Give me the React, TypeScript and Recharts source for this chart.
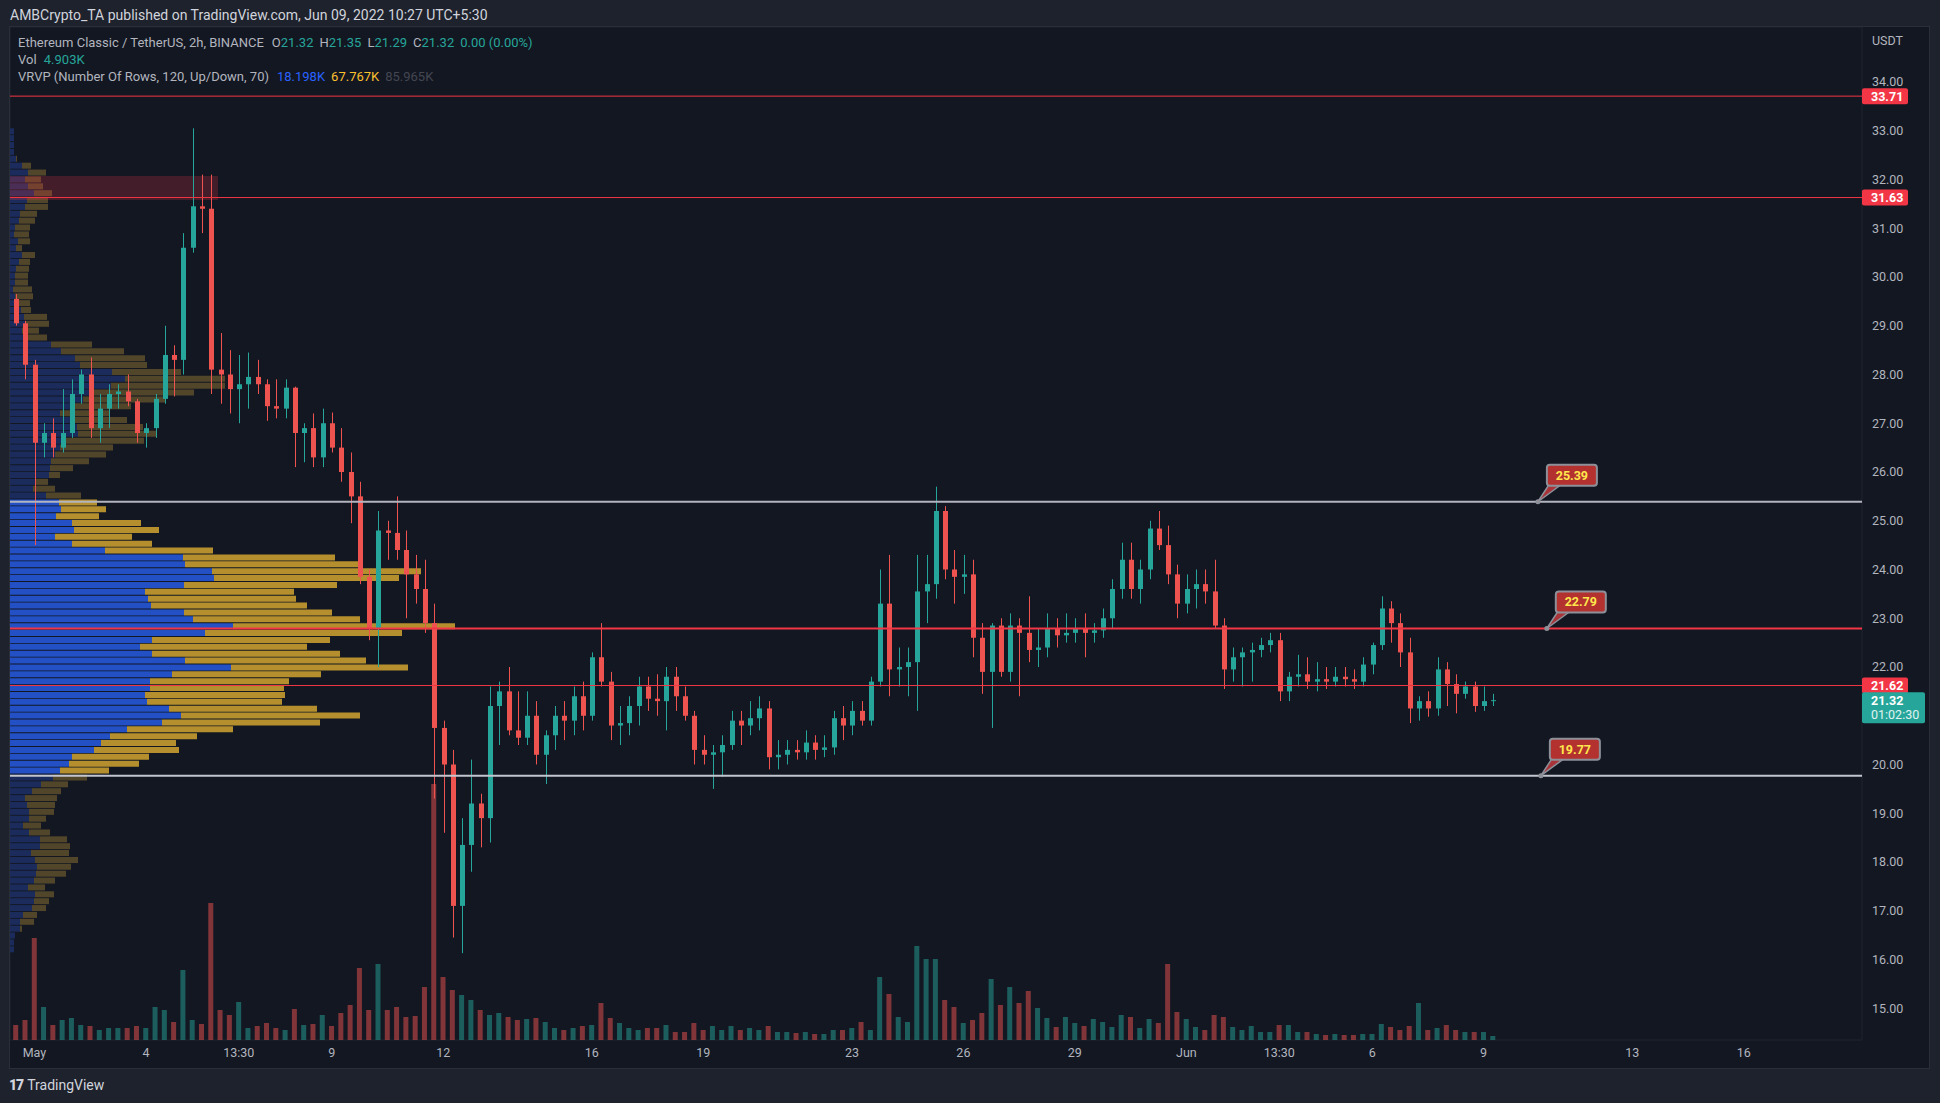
import React from "react";
import {
  Bar,
  CartesianGrid,
  Cell,
  ComposedChart,
  ReferenceArea,
  ReferenceDot,
  ReferenceLine,
  XAxis,
  YAxis
} from "recharts";

// ETC/USDT, resampled to 6h candles. Time is in days from May 1 00:00.
const CANDLE_START = -0.5;
const CANDLE_STEP = 0.25;

const OPEN = [
  29.55, 29.05, 28.2, 26.6, 26.8, 26.5, 26.8, 27.6, 28.0, 26.9,
  27.3, 27.6, 27.65, 27.45, 26.8, 26.9, 27.5, 28.4, 28.3, 30.6,
  31.45, 31.4, 28.1, 28.0, 27.7, 27.8, 27.95, 27.8, 27.35, 27.3,
  27.73, 26.8, 26.9, 26.3, 27.0, 26.5, 26.0, 25.5, 23.85, 22.8,
  24.8, 24.75, 24.4, 23.9, 23.6, 22.9, 20.75, 20.0, 17.1, 18.35,
  19.2, 18.9, 21.2, 21.5, 20.7, 20.55, 21.0, 20.2, 20.6, 21.0,
  20.9, 21.4, 21.0, 22.2, 21.7, 20.8, 20.85, 21.2, 21.6, 21.35,
  21.3, 21.8, 21.4, 21.0, 20.3, 20.2, 20.25, 20.4, 20.9, 20.8,
  20.95, 21.15, 20.15, 20.2, 20.3, 20.25, 20.45, 20.3, 20.35, 20.95,
  20.8, 21.1, 20.9, 21.7, 23.3, 21.95, 22.0, 22.1, 23.55, 23.7,
  25.2, 24.0, 23.85, 23.9, 22.6, 21.9, 22.85, 21.9, 22.85, 22.7,
  22.35, 22.4, 22.8, 22.65, 22.7, 22.8, 22.7, 22.75, 23.0, 23.6,
  24.2, 23.6, 24.0, 24.84, 24.5, 23.9, 23.3, 23.6, 23.7, 23.55,
  22.85, 21.95, 22.2, 22.3, 22.35, 22.45, 22.55, 21.5, 21.8, 21.85,
  21.7, 21.75, 21.7, 21.8, 21.75, 21.7, 22.05, 22.45, 23.2, 22.9,
  22.3, 21.15, 21.3, 21.15, 21.95, 21.65, 21.45, 21.6, 21.2, 21.3
];

const HIGH = [
  29.65, 29.1, 28.3, 27.0, 27.1, 27.7, 27.9, 28.1, 28.35, 27.6,
  27.8, 27.8, 28.0, 27.5, 27.0, 27.6, 29.0, 28.6, 30.9, 33.05,
  32.1, 32.1, 28.85, 28.5, 28.4, 28.45, 28.3, 27.9, 27.9, 27.9,
  27.75, 27.0, 27.2, 27.3, 27.22, 26.9, 26.4, 25.8, 24.0, 25.2,
  25.0, 25.5, 24.8, 24.3, 24.2, 23.3, 20.9, 20.3, 18.9, 20.1,
  19.4, 21.6, 21.7, 22.0, 21.5, 21.5, 21.3, 20.7, 21.2, 21.3,
  21.6, 21.7, 22.3, 22.9, 21.9, 21.2, 21.4, 21.8, 21.8, 21.85,
  22.0, 22.0, 21.6, 21.1, 20.6, 20.4, 20.6, 21.1, 21.1, 21.3,
  21.4, 21.3, 20.5, 20.5, 20.5, 20.7, 20.6, 20.6, 21.1, 21.2,
  21.3, 21.3, 21.8, 24.0, 24.3, 22.4, 22.4, 24.3, 24.3, 25.7,
  25.3, 24.4, 24.3, 24.2, 22.9, 22.9, 23.0, 23.1, 23.0, 23.45,
  22.8, 23.1, 23.0, 23.1, 23.0, 23.1, 22.9, 23.2, 23.8, 24.55,
  24.55, 24.2, 25.0, 25.2, 24.9, 24.1, 23.9, 24.0, 24.0, 24.2,
  23.0, 22.4, 22.4, 22.5, 22.6, 22.7, 22.7, 21.9, 22.25, 22.2,
  22.1, 22.0, 22.0, 22.0, 21.95, 22.2, 22.5, 23.45, 23.35, 23.1,
  22.6, 21.4, 21.5, 22.2, 22.1, 21.85, 21.7, 21.7, 21.6, 21.45
];

const LOW = [
  29.0, 27.9, 24.5, 26.3, 26.3, 26.4, 26.7, 27.4, 26.7, 26.6,
  26.9, 27.3, 27.35, 26.6, 26.5, 26.7, 27.4, 27.55, 28.0, 30.5,
  30.9, 27.6, 27.4, 27.2, 27.0, 27.3, 27.6, 27.05, 27.1, 27.1,
  26.1, 26.2, 26.1, 26.1, 26.4, 25.8, 24.95, 23.7, 22.55, 22.0,
  24.2, 24.2, 23.0, 23.3, 22.7, 19.3, 18.6, 16.45, 16.13, 17.8,
  18.3, 18.4, 20.4, 20.6, 20.4, 20.4, 20.0, 19.6, 20.3, 20.5,
  20.6, 20.7, 20.9, 21.6, 20.5, 20.4, 20.6, 20.8, 21.1, 21.0,
  20.7, 21.1, 20.9, 20.0, 20.0, 19.5, 19.75, 20.3, 20.4, 20.6,
  20.7, 19.9, 19.9, 20.0, 20.1, 20.1, 20.1, 20.15, 20.2, 20.5,
  20.6, 20.8, 20.8, 21.6, 21.4, 21.6, 21.4, 21.1, 22.9, 23.4,
  23.8, 23.3, 23.5, 22.2, 21.45, 20.75, 21.8, 21.7, 21.4, 22.1,
  22.0, 22.2, 22.4, 22.5, 22.5, 22.2, 22.5, 22.6, 22.8, 23.4,
  23.4, 23.3, 23.8, 24.4, 23.7, 23.0, 23.1, 23.2, 23.3, 22.8,
  21.55, 21.7, 21.6, 21.7, 22.2, 22.3, 21.3, 21.3, 21.6, 21.55,
  21.5, 21.55, 21.6, 21.6, 21.55, 21.6, 21.85, 22.35, 22.5, 22.0,
  20.85, 20.9, 20.98, 21.0, 21.2, 21.05, 21.35, 21.08, 21.1, 21.2
];

const CLOSE = [
  29.05, 28.2, 26.6, 26.8, 26.5, 26.8, 27.6, 28.0, 26.9, 27.3,
  27.6, 27.65, 27.45, 26.8, 26.9, 27.5, 28.4, 28.3, 30.6, 31.45,
  31.4, 28.1, 28.0, 27.7, 27.8, 27.95, 27.8, 27.35, 27.3, 27.73,
  26.8, 26.9, 26.3, 27.0, 26.5, 26.0, 25.5, 23.85, 22.8, 24.8,
  24.75, 24.4, 23.9, 23.6, 22.9, 20.75, 20.0, 17.1, 18.35, 19.2,
  18.9, 21.2, 21.5, 20.7, 20.55, 21.0, 20.2, 20.6, 21.0, 20.9,
  21.4, 21.0, 22.2, 21.7, 20.8, 20.85, 21.2, 21.6, 21.35, 21.3,
  21.8, 21.4, 21.0, 20.3, 20.2, 20.25, 20.4, 20.9, 20.8, 20.95,
  21.15, 20.15, 20.2, 20.3, 20.25, 20.45, 20.3, 20.35, 20.95, 20.8,
  21.1, 20.9, 21.7, 23.3, 21.95, 22.0, 22.1, 23.55, 23.7, 25.2,
  24.0, 23.85, 23.9, 22.6, 21.9, 22.85, 21.9, 22.85, 22.7, 22.35,
  22.4, 22.8, 22.65, 22.7, 22.8, 22.7, 22.75, 23.0, 23.6, 24.2,
  23.6, 24.0, 24.84, 24.5, 23.9, 23.3, 23.6, 23.7, 23.55, 22.85,
  21.95, 22.2, 22.3, 22.35, 22.45, 22.55, 21.5, 21.8, 21.85, 21.7,
  21.75, 21.7, 21.8, 21.75, 21.7, 22.05, 22.45, 23.2, 22.9, 22.3,
  21.15, 21.3, 21.15, 21.95, 21.65, 21.45, 21.6, 21.2, 21.3, 21.32
];

// relative volume per candle
const VOLUME = [
  15, 20, 102, 33, 15, 20, 22, 15, 14, 10,
  12, 12, 12, 14, 12, 33, 30, 18, 70, 20,
  16, 137, 30, 25, 38, 12, 14, 17, 12, 10,
  31, 15, 16, 25, 14, 27, 35, 72, 30, 76,
  30, 33, 23, 24, 53, 256, 63, 50, 45, 40,
  30, 25, 27, 23, 20, 21, 22, 18, 12, 10,
  12, 14, 15, 37, 22, 17, 12, 10, 12, 12,
  15, 8, 8, 17, 10, 14, 10, 14, 10, 12,
  10, 14, 8, 8, 7, 8, 6, 6, 10, 10,
  12, 18, 10, 63, 46, 23, 18, 94, 81, 81,
  40, 33, 17, 20, 27, 61, 35, 53, 37, 49,
  32, 22, 13, 23, 17, 14, 21, 18, 13, 25,
  23, 12, 21, 17, 76, 28, 21, 13, 10, 25,
  23, 13, 10, 14, 8, 8, 15, 15, 8, 8,
  6, 5, 6, 5, 5, 6, 6, 16, 13, 10,
  14, 37, 10, 12, 15, 10, 8, 8, 8, 4
];

// visible range volume profile, 120 rows from the high down to the low
const PROFILE_UP = [
  4, 4, 4, 4, 6, 12, 18, 15, 18, 24,
  17, 15, 10, 9, 5, 4, 8, 6, 12, 9,
  6, 5, 5, 3, 5, 9, 11, 14, 16, 12,
  17, 41, 51, 65, 70, 102, 115, 101, 80, 73,
  60, 50, 60, 67, 68, 54, 50, 45, 41, 40,
  39, 26, 23, 36, 49, 51, 46, 62, 64, 45,
  62, 95, 173, 175, 202, 204, 174, 135, 138, 141,
  174, 183, 223, 195, 142, 130, 142, 175, 221, 162,
  140, 140, 135, 137, 159, 171, 152, 117, 100, 91,
  84, 62, 59, 50, 43, 31, 22, 15, 17, 19,
  19, 13, 19, 30, 30, 21, 25, 27, 26, 24,
  18, 25, 24, 22, 13, 10, 10, 5, 4, 4
];

const PROFILE_DOWN = [
  0, 0, 0, 0, 1, 9, 18, 16, 15, 18,
  21, 23, 17, 16, 15, 15, 12, 6, 13, 11,
  13, 13, 13, 19, 18, 11, 10, 23, 23, 17,
  20, 41, 63, 70, 67, 69, 100, 114, 104, 82,
  61, 50, 57, 66, 78, 80, 53, 51, 38, 23,
  11, 12, 22, 35, 38, 45, 43, 69, 85, 77,
  80, 108, 152, 177, 209, 185, 153, 149, 148, 156,
  148, 167, 222, 197, 178, 167, 188, 181, 177, 149,
  139, 134, 140, 135, 148, 179, 158, 106, 87, 75,
  85, 77, 70, 49, 34, 27, 29, 32, 28, 25,
  17, 18, 21, 27, 30, 38, 43, 34, 30, 21,
  17, 19, 15, 14, 14, 14, 2, 0, 0, 0
];

const VALUE_AREA_HIGH = 25.39;
const VALUE_AREA_LOW = 19.77;

const X_TICKS = [0, 3, 5.5, 8, 11, 15, 18, 22, 25, 28, 31, 33.5, 36, 39, 43, 46];
const X_LABELS = ["May", "4", "13:30", "9", "12", "16", "19", "23", "26", "29", "Jun", "13:30", "6", "9", "13", "16"];
const PRICE_TICKS = [15, 16, 17, 18, 19, 20, 21, 22, 23, 24, 25, 26, 27, 28, 29, 30, 31, 32, 33, 34];
// 21.00 sits under the last-price tag
const PRICE_LABELS = PRICE_TICKS.filter((p) => p !== 21);

const LEVELS = [
  { price: 33.71, color: "#f23645", width: 1, tag: true },
  { price: 31.63, color: "#f23645", width: 1, tag: true },
  { price: 25.39, color: "#b2b5be", width: 2, tag: false },
  { price: 22.79, color: "#f23645", width: 2, tag: false },
  { price: 21.62, color: "#f23645", width: 1, tag: true },
  { price: 19.77, color: "#c3c6ce", width: 2, tag: false }
];

const CALLOUTS = [
  { t: 40.46, price: 25.39 },
  { t: 40.7, price: 22.79 },
  { t: 40.54, price: 19.77 }
];

const ZONE = { t1: -0.66, t2: 4.94, p1: 31.58, p2: 32.07 };
const LAST_PRICE = 21.32;

const T_DOMAIN: [number, number] = [-0.657, 49.182];
const PRICE_DOMAIN: [number, number] = [14.349, 35.128];

const UP = "#26a69a";
const DOWN = "#ef5350";
const BG = "#131722";
const FRAME = "#1e222d";
const TEXT = "#b2b5be";
const FONT = "Roboto, 'Noto Sans', sans-serif";

const CHART_W = 1919;
const CHART_H = 1041;
const AXIS_W = 67;
const AXIS_H = 28;
const PLOT_W = CHART_W - AXIS_W;
const PLOT_H = CHART_H - AXIS_H;

const candles = OPEN.map((o, i) => ({
  t: CANDLE_START + i * CANDLE_STEP,
  open: o,
  high: HIGH[i],
  low: LOW[i],
  close: CLOSE[i],
  volume: VOLUME[i]
}));

const rangeHigh = Math.max(...HIGH);
const rangeLow = Math.min(...LOW);
const rowSize = (rangeHigh - rangeLow) / PROFILE_UP.length;
const profile = PROFILE_UP.map((u, i) => {
  const price = rangeHigh - (i + 0.5) * rowSize;
  return { price, up: u, down: PROFILE_DOWN[i], inValue: price <= VALUE_AREA_HIGH && price >= VALUE_AREA_LOW };
});

const Candle = (props: any) => {
  const { x, y, width, height, payload } = props;
  if (x == null || y == null || !payload) return null;
  const top = height < 0 ? y + height : y;
  const h = Math.abs(height);
  const { open, close, high, low } = payload;
  const span = high - low || 1;
  const yOf = (v: number) => top + ((high - v) / span) * h;
  const color = close >= open ? UP : DOWN;
  const cx = Math.round(x + width / 2) + 0.5;
  const b1 = yOf(Math.max(open, close));
  const b2 = yOf(Math.min(open, close));
  return (
    <g>
      <line x1={cx} x2={cx} y1={top} y2={top + h} stroke={color} strokeWidth={1} />
      <rect x={cx - 2.5} y={b1} width={5} height={Math.max(1, b2 - b1)} fill={color} />
    </g>
  );
};

const AxisTag = (props: any) => {
  const { viewBox, text, fill } = props;
  if (!viewBox) return null;
  const x = viewBox.x + viewBox.width;
  const y = viewBox.y;
  return (
    <g>
      <rect x={x} y={y - 8} width={46} height={16} rx={2} fill={fill} />
      <text x={x + 9} y={y + 4.5} fill="#ffffff" fontSize={12.5} fontWeight={700} fontFamily={FONT}>
        {text}
      </text>
    </g>
  );
};

const LastTag = (props: any) => {
  const { viewBox } = props;
  if (!viewBox) return null;
  const x = viewBox.x + viewBox.width;
  const y = viewBox.y;
  return (
    <g>
      <rect x={x} y={y - 8} width={63} height={31} rx={2} fill={UP} />
      <text x={x + 9} y={y + 4.5} fill="#ffffff" fontSize={12.5} fontWeight={700} fontFamily={FONT}>
        {LAST_PRICE.toFixed(2)}
      </text>
      <text x={x + 9} y={y + 19} fill="#e0f2f1" fontSize={12.5} fontFamily={FONT}>
        01:02:30
      </text>
    </g>
  );
};

const Callout = ({ cx, cy, text }: { cx: number; cy: number; text: string }) => (
  <g>
    <polygon points={`${cx},${cy} ${cx + 11},${cy - 17} ${cx + 23},${cy - 17}`} fill="#a8343a" stroke="#8d9099" strokeWidth={1.5} />
    <rect x={cx + 9} y={cy - 37} width={50} height={21} rx={3} fill="#b3322f" stroke="#8d9099" strokeWidth={2} />
    <text x={cx + 34} y={cy - 22} textAnchor="middle" fill="#ffe74c" fontSize={12.5} fontWeight={700} fontFamily={FONT}>
      {text}
    </text>
    <circle cx={cx} cy={cy} r={2.5} fill="#8d9099" />
  </g>
);

const ZERO = { top: 0, right: 0, bottom: 0, left: 0 };

export default function App() {
  return (
    <div style={{ position: "relative", width: 1940, height: 1103, background: FRAME, fontFamily: FONT, overflow: "hidden" }}>
      <style>{`body { margin: 0; background: ${FRAME}; }`}</style>

      <div style={{ position: "absolute", left: 10, top: 6, fontSize: 14, lineHeight: "18px", color: "#d1d4dc", whiteSpace: "nowrap" }}>
        AMBCrypto_TA published on TradingView.com, Jun 09, 2022 10:27 UTC+5:30
      </div>

      <div style={{ position: "absolute", left: 10, top: 27, width: CHART_W, height: CHART_H, background: BG, boxShadow: "0 0 0 1px #2a2e39" }} />

      {/* grid and volume */}
      <div style={{ position: "absolute", left: 10, top: 27 }}>
        <ComposedChart width={CHART_W} height={CHART_H} data={candles} margin={ZERO}>
          <CartesianGrid stroke="#20242f" strokeWidth={1} />
          <XAxis dataKey="t" type="number" scale="linear" domain={T_DOMAIN} ticks={X_TICKS} allowDataOverflow height={AXIS_H} tick={false} axisLine={false} tickLine={false} interval={0} />
          <YAxis orientation="right" type="number" domain={PRICE_DOMAIN} ticks={PRICE_TICKS} allowDataOverflow width={AXIS_W} tick={false} axisLine={false} tickLine={false} interval={0} />
          <YAxis yAxisId="vol" hide type="number" domain={[0, PLOT_H]} allowDataOverflow />
          <Bar yAxisId="vol" dataKey="volume" barSize={5} isAnimationActive={false}>
            {candles.map((c, i) => (
              <Cell key={i} fill={c.close >= c.open ? "rgba(38,166,154,0.5)" : "rgba(239,83,80,0.5)"} />
            ))}
          </Bar>
        </ComposedChart>
      </div>

      {/* volume profile */}
      <div style={{ position: "absolute", left: 10, top: 27 }}>
        <ComposedChart layout="vertical" width={CHART_W} height={CHART_H} data={profile} margin={{ top: 0, left: 0, right: AXIS_W, bottom: AXIS_H }}>
          <XAxis type="number" hide domain={[0, PLOT_W]} allowDataOverflow />
          <YAxis type="number" dataKey="price" hide reversed domain={PRICE_DOMAIN} allowDataOverflow />
          <Bar dataKey="up" stackId="vp" barSize={6} isAnimationActive={false}>
            {profile.map((r, i) => (
              <Cell key={i} fill={r.inValue ? "#2350c5" : "#1b2c5c"} />
            ))}
          </Bar>
          <Bar dataKey="down" stackId="vp" barSize={6} isAnimationActive={false}>
            {profile.map((r, i) => (
              <Cell key={i} fill={r.inValue ? "#b58f2d" : "#52462a"} />
            ))}
          </Bar>
        </ComposedChart>
      </div>

      {/* candles, levels, axes */}
      <div style={{ position: "absolute", left: 10, top: 27 }}>
        <ComposedChart width={CHART_W} height={CHART_H} data={candles} margin={ZERO}>
          <XAxis
            dataKey="t"
            type="number"
            scale="linear"
            domain={T_DOMAIN}
            ticks={X_TICKS}
            allowDataOverflow
            interval={0}
            height={AXIS_H}
            axisLine={false}
            tickLine={false}
            tickSize={0}
            tickMargin={8}
            tick={{ fill: TEXT, fontSize: 12.5, fontFamily: FONT }}
            tickFormatter={(v: number) => X_LABELS[X_TICKS.indexOf(v)] ?? ""}
          />
          <YAxis
            orientation="right"
            type="number"
            domain={PRICE_DOMAIN}
            ticks={PRICE_LABELS}
            allowDataOverflow
            interval={0}
            width={AXIS_W}
            axisLine={false}
            tickLine={false}
            tickSize={0}
            tickMargin={10}
            tick={{ fill: TEXT, fontSize: 12.5, fontFamily: FONT, textAnchor: "start" }}
            tickFormatter={(v: number) => v.toFixed(2)}
          />
          <ReferenceArea x1={ZONE.t1} x2={ZONE.t2} y1={ZONE.p1} y2={ZONE.p2} fill="#f23645" fillOpacity={0.22} stroke="none" ifOverflow="extendDomain" />
          <Bar dataKey={(d: any) => [d.low, d.high]} shape={<Candle />} barSize={6} isAnimationActive={false} />
          {LEVELS.map((l) => (
            <ReferenceLine
              key={l.price}
              y={l.price}
              stroke={l.color}
              strokeWidth={l.width}
              label={l.tag ? <AxisTag text={l.price.toFixed(2)} fill="#f23645" /> : undefined}
            />
          ))}
          <ReferenceLine y={LAST_PRICE} stroke="none" strokeOpacity={0} label={<LastTag />} />
          {CALLOUTS.map((c) => (
            <ReferenceDot
              key={c.price}
              x={c.t}
              y={c.price}
              r={3}
              shape={(p: any) => <Callout cx={p.cx} cy={p.cy} text={c.price.toFixed(2)} />}
            />
          ))}
        </ComposedChart>
      </div>

      <div style={{ position: "absolute", left: 1872, top: 33, fontSize: 12.5, lineHeight: "16px", color: TEXT }}>USDT</div>

      <div style={{ position: "absolute", left: 18, top: 34, fontSize: 13, lineHeight: "17px", color: TEXT, whiteSpace: "nowrap" }}>
        <div>
          Ethereum Classic / TetherUS, 2h, BINANCE
          <span style={{ marginLeft: 8 }}>O</span>
          <span style={{ color: UP }}>21.32</span>
          <span style={{ marginLeft: 6 }}>H</span>
          <span style={{ color: UP }}>21.35</span>
          <span style={{ marginLeft: 6 }}>L</span>
          <span style={{ color: UP }}>21.29</span>
          <span style={{ marginLeft: 6 }}>C</span>
          <span style={{ color: UP }}>21.32</span>
          <span style={{ marginLeft: 6, color: UP }}>0.00 (0.00%)</span>
        </div>
        <div>
          Vol <span style={{ color: UP, marginLeft: 4 }}>4.903K</span>
        </div>
        <div>
          VRVP (Number Of Rows, 120, Up/Down, 70)
          <span style={{ color: "#2962ff", marginLeft: 8 }}>18.198K</span>
          <span style={{ color: "#fbc02d", marginLeft: 6 }}>67.767K</span>
          <span style={{ color: "#434651", marginLeft: 6 }}>85.965K</span>
        </div>
      </div>

      <div style={{ position: "absolute", left: 9, top: 1076, fontSize: 14, lineHeight: "18px", color: "#d1d4dc", whiteSpace: "nowrap" }}>
        <span style={{ fontWeight: 900, letterSpacing: -1, marginRight: 4 }}>17</span>
        TradingView
      </div>
    </div>
  );
}
